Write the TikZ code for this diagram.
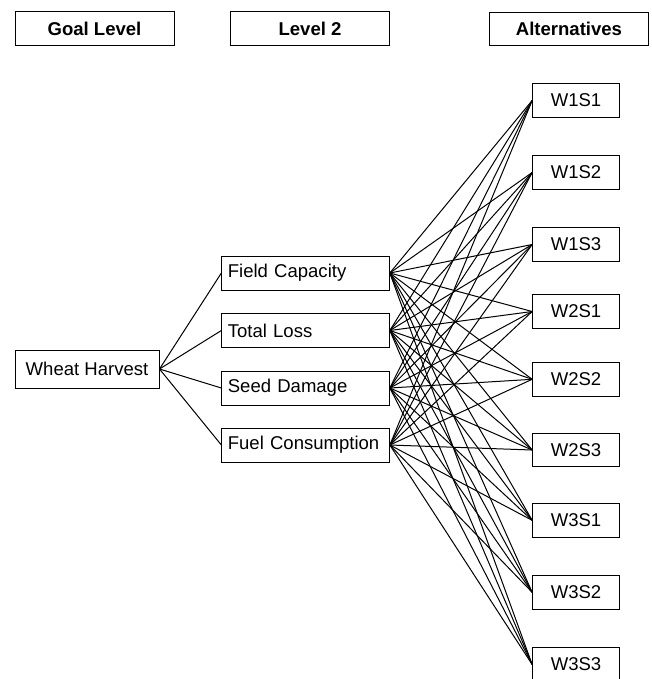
\documentclass[tikz,border=0pt]{standalone}
\usepackage{fontspec}
\setmainfont{Liberation Sans}
\begin{document}
\begin{tikzpicture}[x=0.75pt,y=-0.75pt,
  font=\fontsize{13.9}{16}\selectfont,
  box/.style={draw=black,line width=0.75pt,fill=white,inner sep=0pt},
  header/.style={box,font=\fontsize{13.9}{16}\selectfont\bfseries,minimum width=118.9pt,minimum height=24.9pt},
  critbox/.style={box,text width=116.6pt,inner xsep=4.5pt,inner ysep=0pt,align=left,minimum height=25.5pt},
  altbox/.style={box,minimum width=65pt,minimum height=25.2pt},
  link/.style={line width=0.75pt,black}]
\useasboundingbox (0,0) rectangle (651,679);
% headers
\node[header,minimum width=119.25pt] (hgoal) at (94.5,28.5) {Goal Level};
\node[header] (hlev) at (310,28.5) {Level 2};
\node[header] (halt) at (569,28.8) {Alternatives};
% goal
\node[box,minimum width=108pt,minimum height=28.5pt] (wh) at (87,369) {Wheat Harvest};
% criteria
\node[critbox] (fc) at (305.6,273) {Field Capacity};
\node[critbox] (tl) at (305.6,330.5) {Total Loss};
\node[critbox] (sd) at (305.6,388) {Seed Damage};
\node[critbox] (fu) at (305.6,445) {Fuel Consumption};
% alternatives
\node[altbox] (a11) at (576,100.5) {W1S1};
\node[altbox] (a12) at (576,172.5) {W1S2};
\node[altbox] (a13) at (576,244.5) {W1S3};
\node[altbox] (a21) at (576,311.5) {W2S1};
\node[altbox] (a22) at (576,379.3) {W2S2};
\node[altbox] (a23) at (576,450) {W2S3};
\node[altbox] (a31) at (576,520.3) {W3S1};
\node[altbox] (a32) at (576,592.3) {W3S2};
\node[altbox] (a33) at (576,664.5) {W3S3};
% links
\foreach \c in {fc,tl,sd,fu}{
  \draw[link] (wh.east) -- (\c.west);
  \foreach \a in {a11,a12,a13,a21,a22,a23,a31,a32,a33}{
    \draw[link] (\c.east) -- (\a.west);
  }
}
\end{tikzpicture}
\end{document}
